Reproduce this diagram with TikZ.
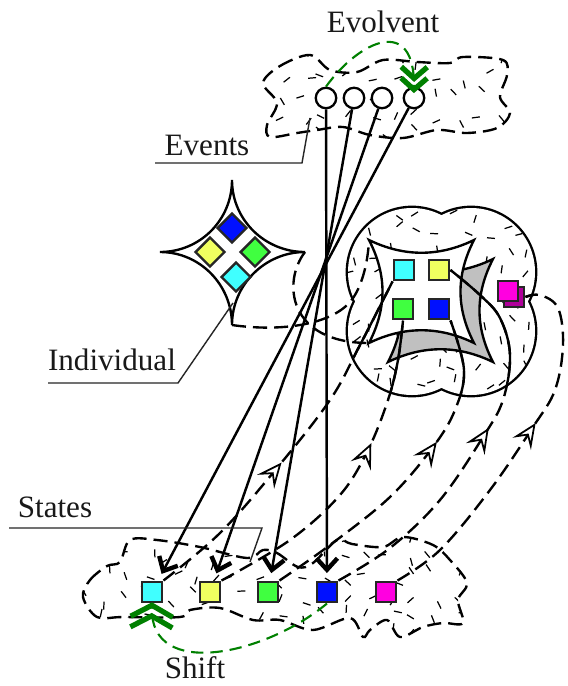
\documentclass[tikz,border=0pt]{standalone}
\usepackage{fontspec}
\setmainfont{Liberation Serif}
\usetikzlibrary{arrows.meta,
                decorations.markings
            }
\definecolor{stcyan}{RGB}{64,255,255}
\definecolor{styellow}{RGB}{240,255,96}
\definecolor{stgreen}{RGB}{64,255,64}
\definecolor{stblue}{RGB}{0,16,255}
\definecolor{stmagenta}{RGB}{255,0,224}
\definecolor{stshadow}{RGB}{176,0,154}
\definecolor{evogreen}{RGB}{0,128,0}
\definecolor{pillowgray}{RGB}{192,192,192}

\tikzset{
    sq/.style={draw=black!85, line width=1.4pt, minimum size=4.1mm, inner sep=0pt},
    ev/.style={circle, draw, fill=white, line width=1.3pt, minimum size=4.1mm, inner sep=0pt},
    blotch/.style={line width=1.35pt, dash pattern=on 8pt off 4pt},
    hatch/.style={line width=0.7pt},
    hit/.style={line width=1.4pt, shorten >=1.5mm,
        -{Straight Barb[length=2.3mm, width=4.2mm, line width=2.5pt]}},
    flow/.style={line width=1.35pt, dash pattern=on 8pt off 4pt,
        postaction={decorate, decoration={markings, mark=at position #1 with
            {\arrow[line width=1pt]{Stealth[length=5mm, width=4.4mm, inset=2mm, fill=white]}}}}},
    evo/.style={draw=evogreen, line width=1.2pt, dash pattern=on 7pt off 4pt,
        -{Straight Barb[length=2.3mm, width=#1, line width=3pt, sep=-1.3mm] Straight Barb[length=2.3mm, width=#1, line width=3pt, sep=-1.3mm]}},
    leader/.style={line width=0.8pt, draw=black!85},
    lbl/.style={anchor=base, inner sep=0pt, text=black!90, font=\fontsize{17.7}{20}\selectfont}
}

\begin{document}
\begin{tikzpicture}[x=0.2mm, y=-0.2mm]
    \fill[white] (0,0) rectangle (568,686);
    \pgfmathsetseed{5}

    \def\topcloud{plot[smooth cycle, tension=0.55] coordinates {(263,83) (280,66) (310,55) (330,70) (357,72) (383,60) (417,62) (450,63) (463,57) (503,60) (507,75) (500,97) (510,113) (497,128) (467,133) (437,130) (403,138) (370,135) (343,127) (317,130) (297,133) (270,137) (267,125) (277,103)}}
    \def\botcloud{plot[smooth cycle, tension=0.55] coordinates {(83,597) (90,580) (107,566) (120,562) (130,540) (157,540) (200,547) (247,558) (263,550) (277,553) (298,567) (313,563) (337,540) (352,544) (383,547) (403,537) (433,545) (450,560) (467,583) (458,600) (463,623) (443,623) (423,627) (400,637) (387,620) (370,630) (363,637) (350,618) (313,630) (280,620) (253,620) (220,608) (190,610) (180,617) (123,617) (97,617)}}
    \def\blob{(412,272) circle (64) (471,272) circle (64) (412,331) circle (64) (471,331) circle (64)}
    \def\pillow{(369,240) .. controls (404,257) and (439,257) .. (474,240) .. controls (456,275) and (456,308) .. (474,343) .. controls (439,326) and (404,326) .. (369,343) .. controls (387,308) and (387,275) .. cycle}

    \begin{scope}
        \clip \topcloud;
        \foreach \x in {262,284,...,512} \foreach \y in {55,75,...,140}
            \draw[hatch] ({\x+12*rnd-6},{\y+12*rnd-6}) -- ++({360*rnd}:8);
    \end{scope}
    \draw[blotch] \topcloud;

    \begin{scope}
        \clip \botcloud;
        \foreach \x in {83,105,...,470} \foreach \y in {537,557,...,640}
            \draw[hatch] ({\x+12*rnd-6},{\y+12*rnd-6}) -- ++({360*rnd}:8);
    \end{scope}
    \draw[blotch] \botcloud;

    \draw[line width=2.7pt] \blob;
    \fill[white] \blob;
    \begin{scope}
        \clip \blob;
        \foreach \x in {350,372,...,536} \foreach \y in {210,232,...,396}
            \draw[hatch] ({\x+12*rnd-6},{\y+12*rnd-6}) -- ++({360*rnd}:8);
    \end{scope}
    \draw[line width=1.35pt, fill=pillowgray, shift={(19,19)}] \pillow;
    \draw[line width=1.35pt, fill=white] \pillow;

    \draw[line width=1.35pt, fill=white] (232,180) .. controls (232,220) and (265,252) .. (305,252)
        .. controls (265,252) and (232,285) .. (232,325) .. controls (232,285) and (200,252) .. (160,252)
        .. controls (200,252) and (232,220) .. cycle;
    \node[sq, rotate=45, fill=stblue] (d1) at (232,228) {};
    \node[sq, rotate=45, fill=styellow] (d2) at (210,252) {};
    \node[sq, rotate=45, fill=stgreen] (d3) at (255,252) {};
    \node[sq, rotate=45, fill=stcyan] (d4) at (236,277) {};

    \coordinate (indR) at (305,252);
    \coordinate (indB) at (232,325);
    \coordinate (pilTL) at (369,240);
    \coordinate (pilBL) at (369,343);
    \draw[blotch] (indR) .. controls (282,282) and (288,343) .. (pilBL);
    \draw[blotch] (indB) .. controls (280,332) and (330,325) .. (350,302) .. controls (362,288) and (368,262) .. (pilTL);

    \node[sq, fill=stcyan] (bc) at (404,270) {};
    \node[sq, fill=styellow] (by) at (439,270) {};
    \node[sq, fill=stgreen] (bg) at (403,309) {};
    \node[sq, fill=stblue] (bb) at (439,309) {};
    \node[sq, fill=stshadow] (mshadow) at (514,297) {};
    \node[sq, fill=stmagenta] (bm) at (508,291) {};

    \node[sq, fill=stcyan] (s1) at (152,592) {};
    \node[sq, fill=styellow] (s2) at (210,592) {};
    \node[sq, fill=stgreen] (s3) at (268,592) {};
    \node[sq, fill=stblue] (s4) at (327,592) {};
    \node[sq, fill=stmagenta] (s5) at (386,592) {};

    \def\flowA{plot[smooth, tension=0.6] coordinates {(s1.north east) (220,533) (277,468) (330,400) (360,345) (bc.south west)}}
    \def\flowB{plot[smooth, tension=0.6] coordinates {(s2.north east) (290,540) (340,495) (368,450) (388,400) (398,360) (bg.south)}}
    \def\flowC{plot[smooth, tension=0.6] coordinates {(s3.north east) (330,545) (390,497) (433,447) (455,410) (464,370) (bb.south east)}}
    \def\flowD{plot[smooth, tension=0.6] coordinates {(s4.north east) (390,548) (440,500) (483,437) (503,400) (510,355) (500,318) (480,295) (by.east)}}
    \def\flowE{plot[smooth, tension=0.6] coordinates {(s5.north east) (440,550) (490,490) (533,427) (555,390) (563,345) (558,308) (540,295) (mshadow.east)}}
    \foreach \c/\p in {\flowA/0.44, \flowB/0.62, \flowC/0.62, \flowD/0.54, \flowE/0.57} {
        \draw[flow=\p] \c;
        \begin{scope}
            \clip \blob;
            \draw[line width=1.35pt] \c;
        \end{scope}
    }

    \node[ev] (e1) at (326,98) {};
    \node[ev] (e2) at (354,98) {};
    \node[ev] (e3) at (382,98) {};
    \node[ev] (e4) at (414,98) {};
    \foreach \e/\s in {e1/s4, e2/s3, e3/s2, e4/s1}
        \draw[hit] (\e) -- (\s);

    \draw[evo=5.2mm] (e1.north) .. controls (360,40) and (415,15) .. (e4.north);
    \draw[evo=8.4mm, shorten >=3pt] (s4.south) .. controls (265,655) and (150,680) .. (s1.south);

    \node[lbl] (evolvent) at (383,32) {Evolvent};
    \node[lbl] (shift) at (195,678) {Shift};
    \node[lbl] (events) at (207,155) {Events};
    \node[lbl] (individual) at (112,370) {Individual};
    \node[lbl] (states) at (55,517) {States};

    \coordinate (evL) at (155,163);
    \coordinate (evK) at (302,163);
    \coordinate (evP) at (310,118);
    \coordinate (inL) at (48,383);
    \coordinate (inK) at (178,383);
    \coordinate (inP) at (233,303);
    \coordinate (stL) at (9,528);
    \coordinate (stK) at (262,528);
    \coordinate (stP) at (250,562);
    \draw[leader] (evL) -- (evK) -- (evP);
    \draw[leader] (inL) -- (inK) -- (inP);
    \draw[leader] (stL) -- (stK) -- (stP);
\end{tikzpicture}
\end{document}
